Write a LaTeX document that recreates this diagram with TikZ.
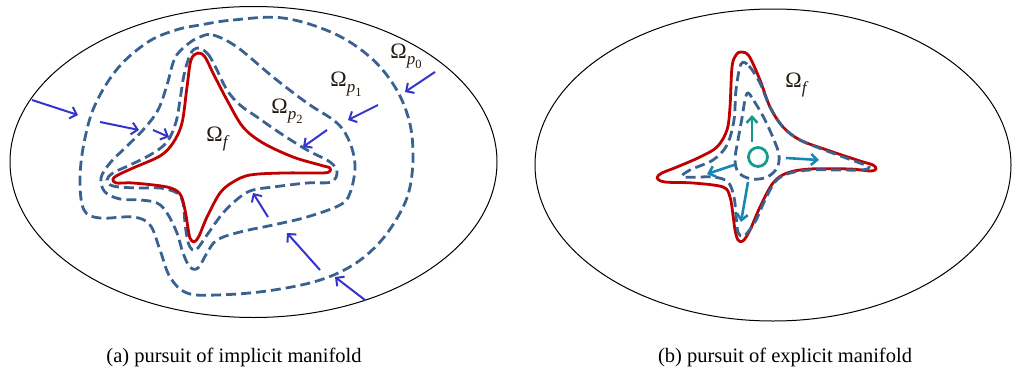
\documentclass[tikz,border=0pt]{standalone}
\usepackage{fontspec}
\setmainfont{Liberation Serif}
\usetikzlibrary{arrows.meta}
\definecolor{redc}{RGB}{192,0,0}
\definecolor{dashc}{RGB}{58,98,145}
\definecolor{arrc}{RGB}{52,52,205}
\definecolor{tealg}{RGB}{20,155,140}
\definecolor{tealb}{RGB}{25,135,180}
\definecolor{labc}{RGB}{35,28,15}
\newcommand{\myOmSub}[1]{Ω\raisebox{-0.28em}{\fontsize{17}{20}\selectfont\itshape #1}}
\newcommand{\myPSub}[1]{p\raisebox{-0.22em}{\fontsize{12.5}{14}\selectfont\upshape #1}}
\begin{document}
\begin{tikzpicture}[x=1pt,y=-1pt,
  ell/.style={draw=black, line width=1pt},
  star/.style={draw=redc, line width=2.8pt, line join=round},
  cont/.style={draw=dashc, line width=2.8pt, dash pattern=on 10pt off 5pt},
  parr/.style={draw=arrc, line width=2pt, -{Straight Barb[length=6pt,width=12pt]}},
  tarr/.style={line width=2.6pt, -{Straight Barb[length=6pt,width=11pt]}},
  lab/.style={text=labc, font=\fontsize{22}{26}\selectfont, inner sep=0pt},
  captext/.style={font=\fontsize{20.5}{24}\selectfont, inner sep=0pt}]
\useasboundingbox (0,0) rectangle (1012,372);

% ---------- (a) ----------
\draw[ell] (253.5,162) ellipse [x radius=243.5, y radius=155.5];

% p0
\draw[cont] plot[smooth cycle, tension=0.6] coordinates {(200,25) (233,20) (283,18) (333,33) (370,57) (395,87) (409,120) (413,153) (410,187) (400,213) (380,242) (353,265) (317,281) (267,291) (217,295) (187,293) (170,277) (160,250) (150,225) (133,217) (100,218) (84,210) (80,180) (84,143) (95,105) (118,68) (148,42) (176,30)};
% p1
\draw[cont] plot[smooth cycle, tension=0.6] coordinates {(200,37) (213,35) (237,47) (273,77) (307,103) (337,123) (350,143) (355,167) (350,193) (340,205) (307,217) (273,225) (240,232) (217,240) (207,253) (198,268) (190,267) (183,253) (177,233) (167,213) (157,203) (140,200) (120,199) (105,192) (101,178) (110,163) (125,148) (143,130) (158,110) (167,85) (175,58) (188,44)};
% p2
\draw[cont] plot[smooth cycle, tension=0.6] coordinates {(197,48) (207,53) (215,66) (227,90) (240,105) (257,117) (280,133) (307,150) (330,162) (337,172) (331,182) (307,183) (273,187) (253,190) (240,197) (223,213) (207,235) (196,250) (190,247) (187,237) (185,223) (183,203) (177,193) (160,188) (137,188) (113,186) (107,180) (113,173) (130,165) (150,155) (167,142) (176,122) (180,100) (184,75) (190,55)};
% red star
\draw[star] plot[smooth cycle, tension=0.55] coordinates {(198,53) (205,57) (213,73) (227,100) (243,127) (263,143) (293,157) (320,165) (330,168) (329,172) (320,173) (283,173) (250,175) (233,182) (220,193) (207,217) (199,236) (194,242) (190,238) (188,228) (185,210) (180,194) (167,187) (133,183) (116,183) (113,179) (118,175) (133,168) (160,156) (173,143) (182,123) (187,87) (191,60)};

% arrows (a)
\coordinate (a1s) at (32,100);  \coordinate (a1e) at (78,115);
\coordinate (a2s) at (100,122); \coordinate (a2e) at (139,130);
\coordinate (a3s) at (153,130); \coordinate (a3e) at (169,137);
\coordinate (a4s) at (435,72);  \coordinate (a4e) at (405,92);
\coordinate (a5s) at (378,105); \coordinate (a5e) at (348,120);
\coordinate (a6s) at (327,130); \coordinate (a6e) at (303,147);
\coordinate (a7s) at (268,217); \coordinate (a7e) at (253,193);
\coordinate (a8s) at (320,270); \coordinate (a8e) at (287,233);
\coordinate (a9s) at (365,300); \coordinate (a9e) at (335,277);
\foreach \i in {1,...,9} {\draw[parr] (a\i s) -- (a\i e);}

\node[lab] (lp0) at (406,56) {\myOmSub{\myPSub{0}}};
\node[lab] (lp1) at (346,84) {\myOmSub{\myPSub{1}}};
\node[lab] (lp2) at (287,111) {\myOmSub{\myPSub{2}}};
\node[lab] (lfa) at (217,139) {\myOmSub{f}};

\node[captext] (capa) at (234,357) {(a) pursuit of implicit manifold};

% ---------- (b) ----------
\draw[ell] (773,165) ellipse [x radius=238, y radius=156];

\draw[star] plot[smooth cycle, tension=0.55] coordinates {(741,52) (749,56) (760,80) (770,107) (783,127) (800,140) (827,150) (860,161) (873,165) (876,169) (870,171) (850,169) (810,169) (787,173) (773,183) (760,207) (750,230) (743,241) (738,240) (735,230) (733,215) (730,197) (723,187) (693,183) (665,182) (657,178) (662,173) (677,167) (700,157) (717,147) (727,130) (730,107) (732,67) (736,55)};
\draw[cont] plot[smooth cycle, tension=0.55] coordinates {(741,64) (749,66) (760,83) (770,107) (783,127) (800,140) (827,151) (857,162) (869,167) (860,170) (810,170) (787,174) (775,182) (765,200) (755,222) (744,236) (738,232) (736,215) (734,197) (728,182) (713,177) (683,177) (690,170) (713,160) (727,145) (734,120) (736,90)};
\draw[cont] plot[smooth cycle, tension=0.6] coordinates {(748,93) (754,101) (764,118) (774,140) (779,155) (777,168) (767,177) (752,179) (739,173) (735,160) (738,140) (742,118) (745,100)};

\node[draw=tealg, line width=2.8pt, circle, minimum size=19pt, inner sep=0pt] (src) at (758,157) {};
\coordinate (bu) at (752,115);
\coordinate (br) at (819,160);
\coordinate (bl) at (707,174);
\coordinate (bd) at (741,222);
\draw[tarr, draw=tealg] (752,142) -- (bu);
\draw[tarr, draw=tealb] (786,158) -- (br);
\draw[tarr, draw=tealb] (734,165) -- (bl);
\draw[tarr, draw=tealb] (748,182) -- (bd);

\node[lab] (lfb) at (796,85) {\myOmSub{f}};
\node[captext] (capb) at (785,357) {(b) pursuit of explicit manifold};
\end{tikzpicture}
\end{document}
